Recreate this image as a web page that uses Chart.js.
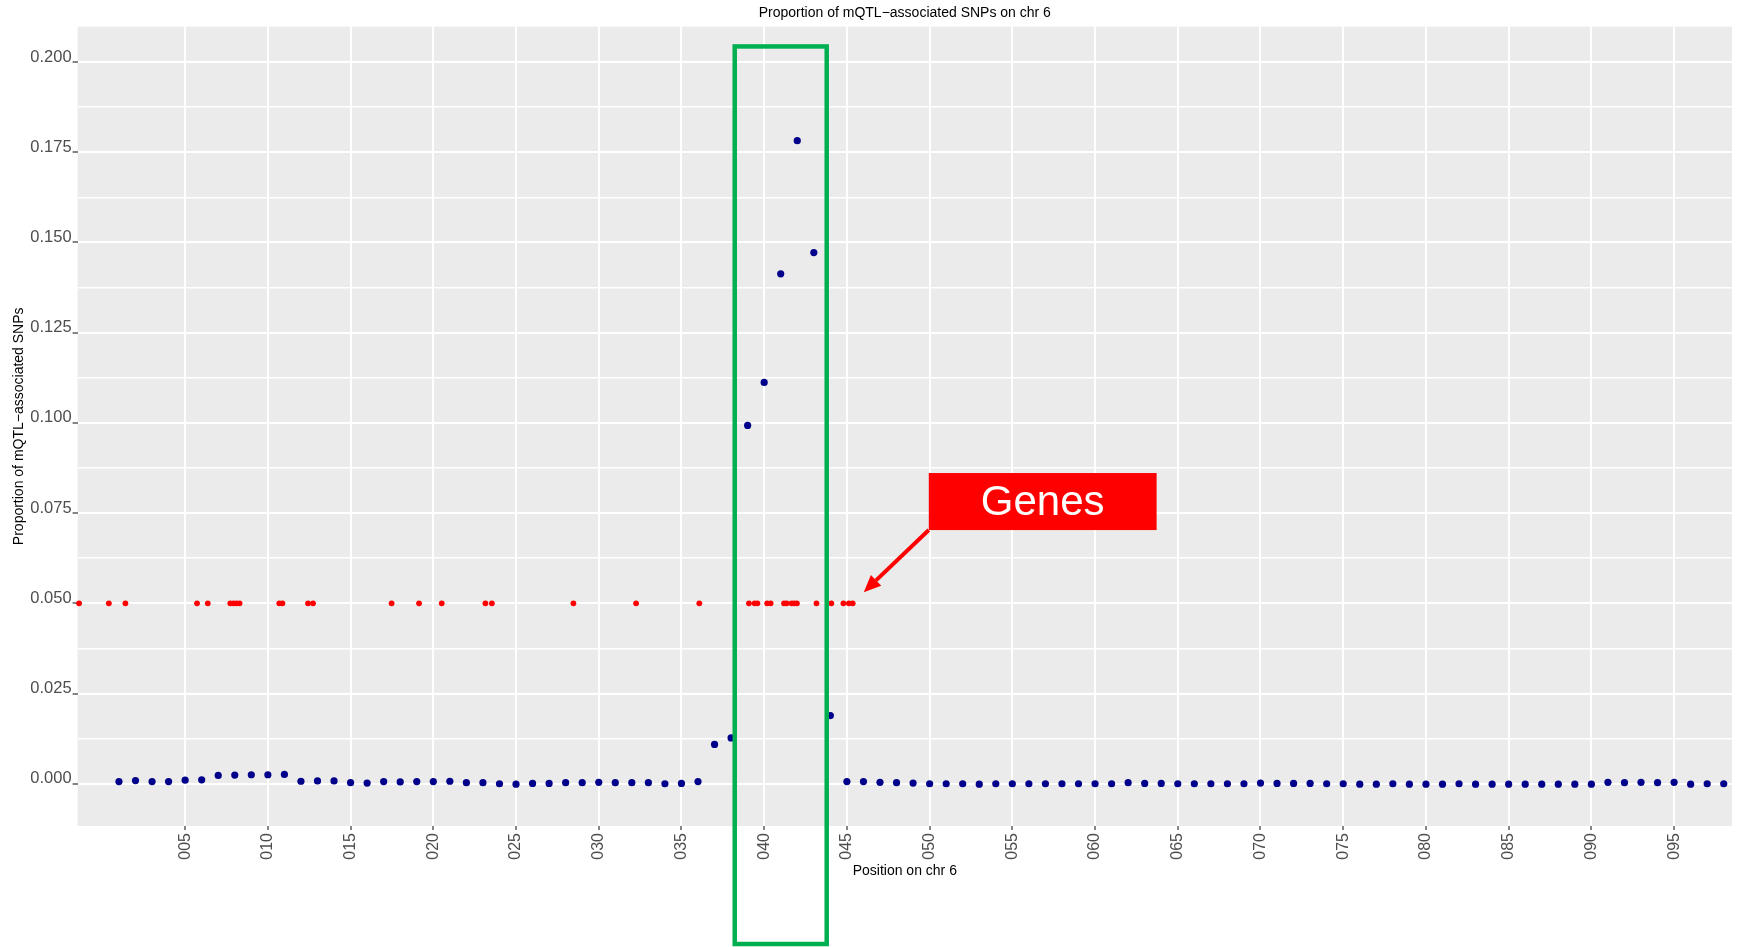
<!DOCTYPE html>
<html>
<head>
<meta charset="utf-8">
<script src="https://cdn.jsdelivr.net/npm/chart.js@4.4.0/dist/chart.umd.min.js"></script>
<style>
html, body { margin: 0; padding: 0; background: #fff; }
#wrap { width: 1738px; height: 947px; }
</style>
</head>
<body>
<div id="wrap"><canvas id="myChart" width="1738" height="947"></canvas></div>
<script>
// positions on chr 6 (window index) and proportion of mQTL-associated SNPs
var positions = [1, 2, 3, 4, 5, 6, 7, 8, 9, 10, 11, 12, 13, 14, 15, 16, 17, 18, 19, 20,
  21, 22, 23, 24, 25, 26, 27, 28, 29, 30, 31, 32, 33, 34, 35, 36, 37, 38, 39, 40,
  41, 42, 43, 44, 45, 46, 47, 48, 49, 50, 51, 52, 53, 54, 55, 56, 57, 58, 59, 60,
  61, 62, 63, 64, 65, 66, 67, 68, 69, 70, 71, 72, 73, 74, 75, 76, 77, 78, 79, 80,
  81, 82, 83, 84, 85, 86, 87, 88, 89, 90, 91, 92, 93, 94, 95, 96, 97, 98];
var proportions = [0.0006, 0.0009, 0.0006, 0.0006, 0.0010, 0.0011, 0.0023, 0.0024, 0.0025, 0.0025,
  0.0026, 0.0007, 0.0008, 0.0008, 0.0003, 0.0002, 0.0006, 0.0005, 0.0006, 0.0006,
  0.0007, 0.0003, 0.0003, 0.0000, -0.0001, 0.0001, 0.0001, 0.0003, 0.0003, 0.0004,
  0.0003, 0.0003, 0.0003, 0.0000, 0.0001, 0.0006, 0.0109, 0.0127, 0.0993, 0.1112,
  0.1413, 0.1782, 0.1472, 0.0189, 0.0006, 0.0006, 0.0004, 0.0003, 0.0002, 0.0000,
  0.0000, 0.0000, -0.0001, 0.0000, 0.0000, 0.0000, 0.0000, 0.0000, 0.0000, 0.0000,
  0.0000, 0.0003, 0.0001, 0.0001, 0.0000, 0.0000, 0.0000, 0.0000, 0.0000, 0.0002,
  0.0001, 0.0001, 0.0001, 0.0000, 0.0000, -0.0001, -0.0001, 0.0000, -0.0001, -0.0001,
  -0.0001, 0.0000, -0.0001, -0.0001, -0.0001, -0.0001, -0.0001, -0.0001, -0.0001, -0.0001,
  0.0004, 0.0003, 0.0004, 0.0003, 0.0004, -0.0001, 0.0000, 0.0000];

// gene locations, all drawn at 0.05
var geneX = [-1.41, 0.39, 1.39, 5.72, 6.37, 7.73, 7.92, 8.10, 8.29, 10.69, 10.88, 12.43, 12.73,
  17.48, 19.14, 20.51, 23.15, 23.54, 28.47, 32.26, 36.08, 39.08, 39.42, 39.59, 40.18, 40.39,
  41.20, 41.36, 41.66, 41.82, 41.98, 43.16, 44.06, 44.79, 45.12, 45.35];
var geneLevel = 0.05;

var xTickValues = [5, 10, 15, 20, 25, 30, 35, 40, 45, 50, 55, 60, 65, 70, 75, 80, 85, 90, 95];
var xTickLabels = ['005', '010', '015', '020', '025', '030', '035', '040', '045', '050',
  '055', '060', '065', '070', '075', '080', '085', '090', '095'];
var yTickValues = [0, 0.025, 0.05, 0.075, 0.1, 0.125, 0.15, 0.175, 0.2];
var yTickLabels = ['0.000', '0.025', '0.050', '0.075', '0.100', '0.125', '0.150', '0.175', '0.200'];

var FONT = 'Liberation Sans, Arial, sans-serif';
var TITLE = 'Proportion of mQTL\u2212associated SNPs on chr 6';

// gray ggplot panel
var panelBg = {
  id: 'panelBg',
  beforeDraw: function (chart) {
    var a = chart.chartArea, c = chart.ctx;
    c.save();
    c.fillStyle = '#EBEBEB';
    c.fillRect(a.left, a.top, a.right - a.left, a.bottom - a.top);
    c.restore();
  }
};

// plot title centred over the panel, plus slide annotations
var overlay = {
  id: 'overlay',
  afterDraw: function (chart) {
    var c = chart.ctx, xs = chart.scales.x, ys = chart.scales.y, a = chart.chartArea;
    c.save();
    c.fillStyle = '#000';
    c.font = '14px ' + FONT;
    c.textAlign = 'center';
    c.textBaseline = 'middle';
    c.fillText(TITLE, (a.left + a.right) / 2, 13);

    // green box
    var gx1 = xs.getPixelForValue(38.22), gx2 = xs.getPixelForValue(43.78);
    var gy1 = ys.getPixelForValue(0.2043), gy2 = chart.height - 3;
    c.strokeStyle = '#00B050';
    c.lineWidth = 4.5;
    c.strokeRect(gx1, gy1, gx2 - gx1, gy2 - gy1);

    // red label box
    var rx1 = xs.getPixelForValue(49.95), rx2 = xs.getPixelForValue(63.72);
    var ry1 = ys.getPixelForValue(0.0861), ry2 = ys.getPixelForValue(0.0703);
    c.fillStyle = '#FF0000';
    c.fillRect(rx1, ry1, rx2 - rx1, ry2 - ry1);
    c.fillStyle = '#FFFFFF';
    c.font = '42px ' + FONT;
    c.fillText('Genes', (rx1 + rx2) / 2, (ry1 + ry2) / 2 + 2);

    // arrow
    var tx = xs.getPixelForValue(46.02), ty = ys.getPixelForValue(0.0531);
    var ang = Math.atan2(ty - ry2, tx - rx1);
    var hl = 17, hw = 7.5;
    var bx = tx - hl * Math.cos(ang), by = ty - hl * Math.sin(ang);
    c.strokeStyle = '#FF0000';
    c.lineWidth = 4;
    c.beginPath();
    c.moveTo(rx1, ry2);
    c.lineTo(bx, by);
    c.stroke();
    c.fillStyle = '#FF0000';
    c.beginPath();
    c.moveTo(tx, ty);
    c.lineTo(bx + hw * Math.sin(ang), by - hw * Math.cos(ang));
    c.lineTo(bx - hw * Math.sin(ang), by + hw * Math.cos(ang));
    c.closePath();
    c.fill();
    c.restore();
  }
};

var ctx = document.getElementById('myChart').getContext('2d');
var myChart = new Chart(ctx, {
  type: 'scatter',
  data: {
    datasets: [{
      label: 'Genes',
      data: geneX.map(function (x) { return { x: x, y: geneLevel }; }),
      pointRadius: 2.9,
      pointBorderWidth: 0,
      backgroundColor: '#FF0000',
      clip: false
    }, {
      label: 'mQTL-associated SNPs',
      data: positions.map(function (x, i) { return { x: x, y: proportions[i] }; }),
      pointRadius: 3.6,
      pointBorderWidth: 0,
      backgroundColor: '#00008B',
      clip: false
    }]
  },
  options: {
    responsive: false,
    animation: false,
    layout: { padding: { left: 0, right: 6, top: 26.6, bottom: 0 } },
    plugins: {
      legend: { display: false },
      tooltip: { enabled: false },
      title: { display: false }
    },
    scales: {
      x: {
        type: 'linear',
        min: -1.5,
        max: 98.5,
        afterBuildTicks: function (s) {
          s.ticks = xTickValues.map(function (v) { return { value: v }; });
        },
        afterFit: function (s) { s.height = 121; },
        ticks: {
          autoSkip: false,
          minRotation: 90,
          maxRotation: 90,
          color: '#4D4D4D',
          padding: 3,
          font: { family: FONT, size: 16 },
          callback: function (v, i) { return xTickLabels[i]; }
        },
        grid: { color: '#FFFFFF', lineWidth: 2, tickLength: 4, tickColor: '#333333', tickWidth: 1.2 },
        border: { display: false },
        title: {
          display: true,
          text: 'Position on chr 6',
          color: '#000',
          font: { family: FONT, size: 14 },
          padding: { top: 0, bottom: 67.6 }
        }
      },
      y: {
        min: -0.0117,
        max: 0.2098,
        afterBuildTicks: function (s) {
          var t = [];
          yTickValues.forEach(function (v, i) {
            t.push({ value: v, label: yTickLabels[i], minor: false });
            if (i < yTickValues.length - 1) {
              t.push({ value: (v + yTickValues[i + 1]) / 2, label: '', minor: true });
            }
          });
          s.ticks = t;
        },
        afterFit: function (s) { s.width = 77.6; },
        ticks: {
          autoSkip: false,
          color: '#4D4D4D',
          padding: 1,
          labelOffset: -5,
          font: { family: FONT, size: 16.5 },
          callback: function (v, i, ticks) { return ticks[i].label; }
        },
        grid: {
          color: '#FFFFFF',
          lineWidth: function (c) { return c.tick && c.tick.minor ? 1.5 : 2; },
          tickLength: 5,
          tickColor: function (c) { return c.tick && c.tick.minor ? 'rgba(0,0,0,0)' : '#333333'; },
          tickWidth: 1.2
        },
        border: { display: false },
        title: {
          display: true,
          text: 'Proportion of mQTL\u2212associated SNPs',
          color: '#000',
          font: { family: FONT, size: 14 },
          padding: { top: 11, bottom: 0 }
        }
      }
    }
  },
  plugins: [panelBg, overlay]
});
</script>
</body>
</html>
